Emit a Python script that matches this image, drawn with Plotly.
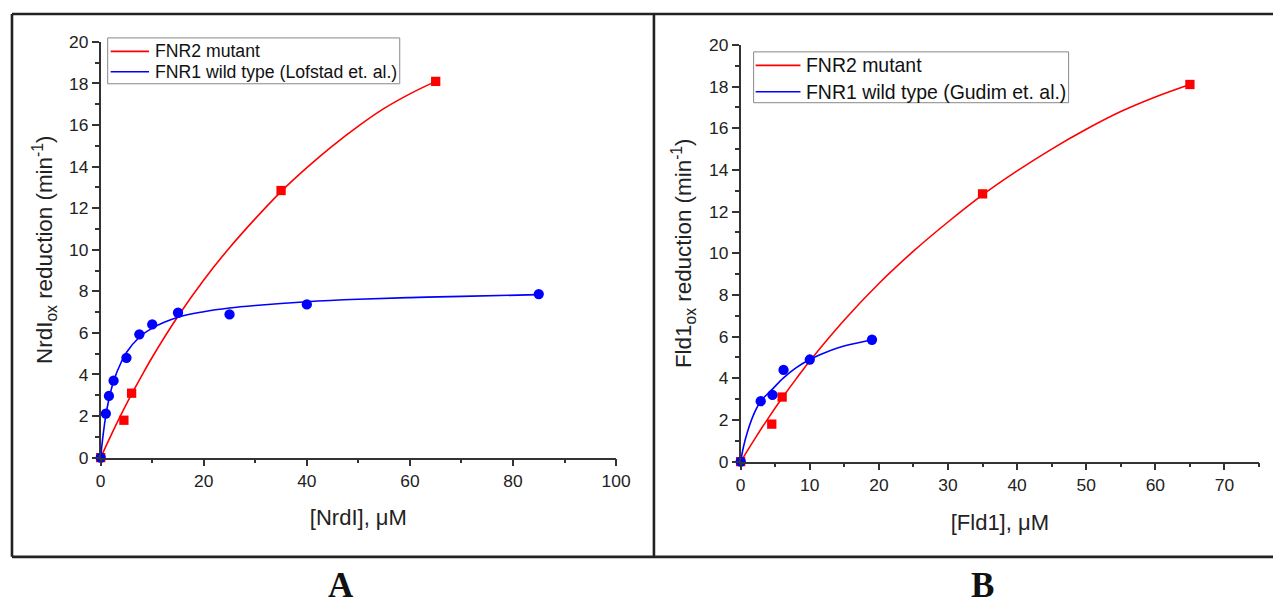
import plotly.graph_objects as go

W, H = 1288, 607

# ---------------- data ----------------
# Panel A: NrdI
a_red_x = [0, 4.5, 6, 35, 65]
a_red_y = [0, 1.8, 3.1, 12.85, 18.1]
a_blue_x = [0, 1, 1.6, 2.5, 5, 7.5, 10, 15, 25, 40, 85]
a_blue_y = [0, 2.12, 2.97, 3.7, 4.8, 5.93, 6.41, 6.97, 6.89, 7.37, 7.87]

# fitted curves
fit_red_x = [0, 2, 4, 6, 8, 10, 15, 20, 25, 30, 35, 40, 45, 50, 55, 60, 65]
fit_red_y = [0, 1.07, 2.09, 3.05, 3.96, 4.83, 6.8, 8.55, 10.1, 11.5, 12.8, 13.95, 15.0, 15.95, 16.8, 17.5, 18.1]
fit_a_blue_x = [0, 0.25, 0.5, 1, 1.5, 2.5, 4, 5, 7.5, 10, 15, 20, 25, 30, 40, 50, 60, 70, 85]
fit_a_blue_y = [0, 0.62, 1.16, 2.03, 2.7, 3.68, 4.6, 5.06, 5.79, 6.23, 6.75, 7.02, 7.2, 7.32, 7.5, 7.62, 7.7, 7.76, 7.84]

# Panel B: Fld1
b_red_x = [0, 4.5, 6, 35, 65]
b_red_y = [0, 1.8, 3.1, 12.85, 18.1]
b_blue_x = [0, 2.9, 4.6, 6.2, 10, 19]
b_blue_y = [0, 2.9, 3.2, 4.4, 4.9, 5.85]
fit_b_blue_x = [0, 0.4, 1, 2, 2.9, 4.6, 6.2, 8, 10, 12, 14, 16, 19]
fit_b_blue_y = [0, 0.7, 1.45, 2.35, 2.9, 3.48, 4.02, 4.5, 4.9, 5.2, 5.45, 5.63, 5.85]

legend_a = ["FNR2 mutant", "FNR1 wild type (Lofstad et. al.)"]
legend_b = ["FNR2 mutant", "FNR1 wild type (Gudim et. al.)"]

RED = "#ff0000"
BLUE = "#0000ff"
AX = "#333333"
FONT = "Liberation Sans, Arial, sans-serif"


# screen position (as seen in the photographed page) -> paper fraction
def px_x(X):
    return ((X - 4.0) / 0.9876) / W


def px_y(Y):
    return 1 - ((Y - 9.0) / 0.970) / H


fig = go.Figure()


def add_panel(xa, ya, fits, pts, names):
    for (fx, fy), col, nm in zip(fits, (RED, BLUE), names):
        fig.add_trace(go.Scatter(x=fx, y=fy, mode="lines", line=dict(color=col, width=1.6, shape="spline"),
                                 name=nm, xaxis=xa, yaxis=ya, showlegend=False, cliponaxis=False))
    (rx, ry), (bx, by) = pts
    fig.add_trace(go.Scatter(x=rx, y=ry, mode="markers", marker=dict(symbol="square", size=9.3, color=RED),
                             showlegend=False, xaxis=xa, yaxis=ya, cliponaxis=False))
    fig.add_trace(go.Scatter(x=bx, y=by, mode="markers", marker=dict(symbol="circle", size=10.3, color=BLUE),
                             showlegend=False, xaxis=xa, yaxis=ya, cliponaxis=False))


add_panel("x", "y", [(fit_red_x, fit_red_y), (fit_a_blue_x, fit_a_blue_y)],
          [(a_red_x, a_red_y), (a_blue_x, a_blue_y)], legend_a)
add_panel("x2", "y2", [(fit_red_x, fit_red_y), (fit_b_blue_x, fit_b_blue_y)],
          [(b_red_x, b_red_y), (b_blue_x, b_blue_y)], legend_b)

axis_common = dict(showline=True, linecolor=AX, linewidth=1.5, ticks="outside", ticklen=7, tickwidth=1.5,
                   tickcolor=AX, showgrid=False, zeroline=False,
                   tickfont=dict(family=FONT, size=17.4, color="#222"), fixedrange=True)
minor_common = dict(ticks="outside", ticklen=4, tickwidth=1.5, tickcolor=AX, showgrid=False)

fig.update_layout(
    width=W, height=H, margin=dict(l=0, r=0, t=0, b=0),
    paper_bgcolor="white", plot_bgcolor="rgba(0,0,0,0)",
    font=dict(family=FONT, color="#222"),
    showlegend=False,
    xaxis=dict(domain=[px_x(100), px_x(617)], range=[0, 100], dtick=20, anchor="y",
               minor=dict(dtick=10, **minor_common),
               title=dict(text="[NrdI], μM", font=dict(family=FONT, size=22), standoff=19), **axis_common),
    yaxis=dict(domain=[px_y(458), px_y(41)], range=[0, 20], dtick=2, anchor="x",
               minor=dict(dtick=1, **minor_common),
               title=dict(text="NrdI<sub>ox</sub> reduction (min<sup>-1</sup>)", font=dict(family=FONT, size=22.4),
                          standoff=10), **axis_common),
    xaxis2=dict(domain=[px_x(742), px_x(1262)], range=[0, 75], dtick=10, anchor="y2",
                minor=dict(dtick=5, **minor_common),
                title=dict(text="[Fld1], μM", font=dict(family=FONT, size=22), standoff=20), **axis_common),
    yaxis2=dict(domain=[px_y(462), px_y(44)], range=[0, 20], dtick=2, anchor="x2",
                minor=dict(dtick=1, **minor_common),
                title=dict(text="Fld1<sub>ox</sub> reduction (min<sup>-1</sup>)", font=dict(family=FONT, size=22.4),
                           standoff=11), **axis_common),
)


# ---- legends drawn as boxes, line samples and text ----
def add_legend(box, rows, sample, text_x, names, size):
    x0, y0, x1, y1 = box
    fig.add_shape(type="rect", xref="paper", yref="paper", x0=px_x(x0), x1=px_x(x1), y0=px_y(y1), y1=px_y(y0),
                  line=dict(color="#888", width=1), fillcolor="white", layer="above")
    for ry, col, nm in zip(rows, (RED, BLUE), names):
        fig.add_shape(type="line", xref="paper", yref="paper", x0=px_x(sample[0]), x1=px_x(sample[1]),
                      y0=px_y(ry), y1=px_y(ry), line=dict(color=col, width=1.6), layer="above")
        fig.add_annotation(text=nm, x=px_x(text_x), y=px_y(ry), xref="paper", yref="paper", showarrow=False,
                           xanchor="left", yanchor="middle", font=dict(family=FONT, size=size, color="#111"))


add_legend((107, 37, 400, 83), (50.5, 71), (110, 148.5), 152, legend_a, 17.65)
add_legend((755, 51, 1071, 102), (64.5, 91), (757, 802), 806, legend_b, 19.45)

# outer frame and divider
frame = dict(type="line", xref="paper", yref="paper", line=dict(color="#222", width=2.6))
fig.add_shape(x0=px_x(11), x1=1, y0=px_y(13), y1=px_y(13), **frame)
fig.add_shape(x0=px_x(11), x1=1, y0=px_y(557.5), y1=px_y(557.5), **frame)
fig.add_shape(x0=px_x(11), x1=px_x(11), y0=px_y(13), y1=px_y(557.5), **frame)
fig.add_shape(x0=px_x(655), x1=px_x(655), y0=px_y(13), y1=px_y(557.5), **frame)

# panel labels
for lab, cx in (("A", 341), ("B", 984.5)):
    fig.add_annotation(text=f"<b>{lab}</b>", x=px_x(cx), y=1 - 595.5 / H, xref="paper", yref="paper",
                       showarrow=False, xanchor="center", yanchor="middle",
                       font=dict(family="Liberation Serif, Times New Roman, serif", size=35, color="#111"))

fig.write_html("out.html")
